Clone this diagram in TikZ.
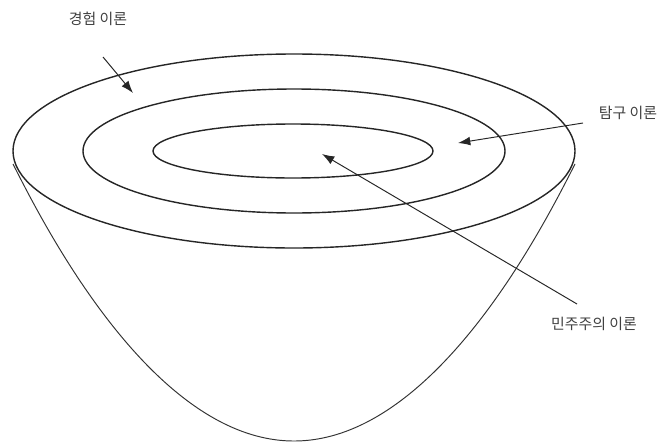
\documentclass[tikz,border=0pt]{standalone}
\usepackage{fontspec}
\newfontfamily\kfont{Noto Sans CJK KR}
\usepackage{tikz}
\usetikzlibrary{arrows.meta}

\begin{document}
\begin{tikzpicture}[x=0.02cm, y=0.02cm, font=\kfont\fontsize{8.5}{10}\selectfont,
  ring/.style={line width=0.8pt, black!85},
  bowl/.style={line width=0.55pt, black!80},
  pointer/.style={-{Latex[length=7pt,width=5pt]}, line width=0.55pt, black!85},
  tag/.style={text=black!75, inner sep=1pt}]
  \useasboundingbox (0,0) rectangle (665,-443);
  % bowl and rings
  \draw[bowl] (13,-164) parabola bend (294,-441) (575,-164);
  \draw[ring] (294,-151) ellipse [x radius=281, y radius=97];
  \draw[ring] (294,-151) ellipse [x radius=211, y radius=62];
  \draw[ring] (293,-151) ellipse [x radius=140, y radius=27];
  % labels
  \node[tag] (exp) at (98,-19) {경험 이론};
  \node[tag] (inq) at (628,-113) {탐구 이론};
  \node[tag] (dem) at (594,-324) {민주주의 이론};
  \coordinate (expS) at (103,-57);
  \coordinate (expT) at (133,-93);
  \coordinate (inqS) at (583,-123);
  \coordinate (inqT) at (458,-143);
  \coordinate (demS) at (577,-304);
  \coordinate (demT) at (322,-154);
  \draw[pointer] (expS) -- (expT);
  \draw[pointer] (inqS) -- (inqT);
  \draw[pointer] (demS) -- (demT);
\end{tikzpicture}
\end{document}
